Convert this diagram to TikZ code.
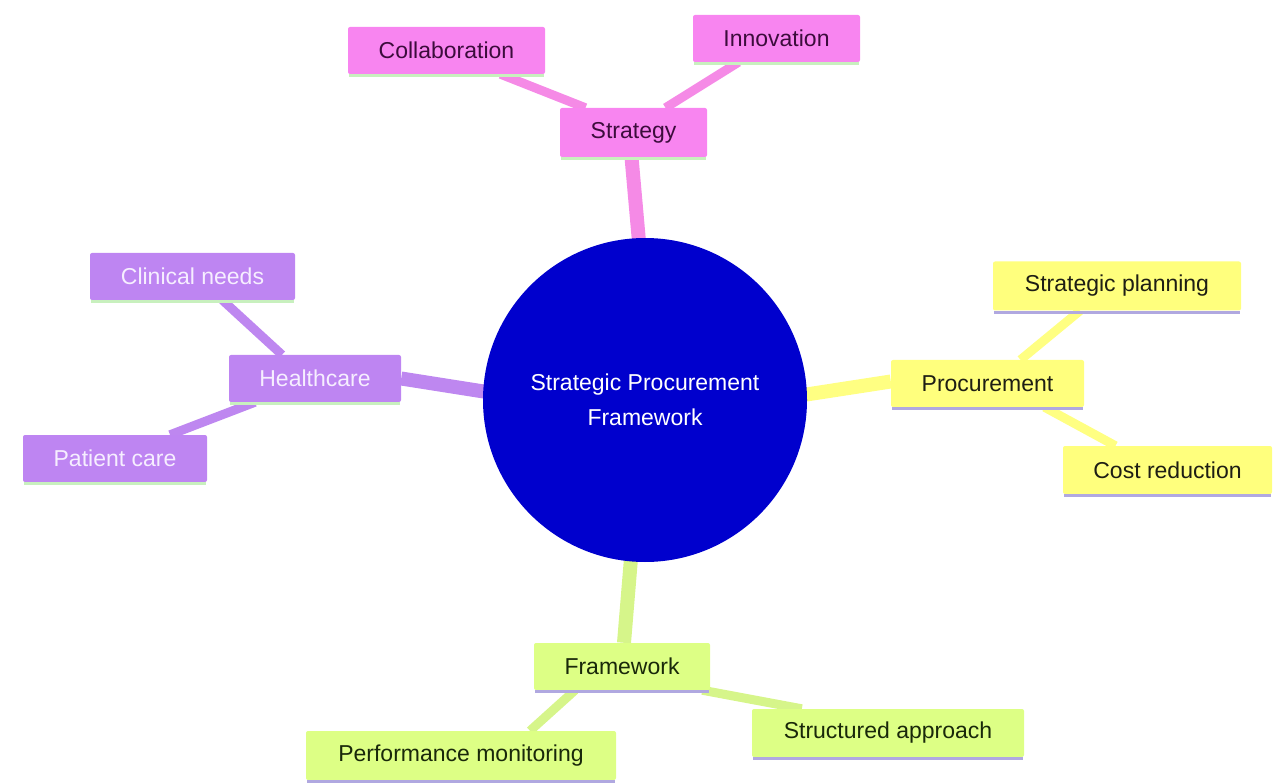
\documentclass[tikz,border=0pt]{standalone}
\usepackage{fontspec}
\setmainfont{Liberation Sans}
\usetikzlibrary{backgrounds,calc}
\definecolor{pinkF}{RGB}{248,133,240}
\definecolor{pinkL}{RGB}{245,138,230}
\definecolor{pinkT}{RGB}{60,12,60}
\definecolor{purpF}{RGB}{190,133,242}
\definecolor{purpL}{RGB}{190,135,240}
\definecolor{purpT}{RGB}{246,238,255}
\definecolor{yelF}{RGB}{255,255,125}
\definecolor{yelL}{RGB}{255,255,130}
\definecolor{yelT}{RGB}{30,30,20}
\definecolor{grnF}{RGB}{221,255,133}
\definecolor{grnL}{RGB}{214,245,138}
\definecolor{grnT}{RGB}{25,40,10}
\definecolor{centerB}{RGB}{0,0,205}
\definecolor{shGreen}{RGB}{200,240,190}
\definecolor{shLav}{RGB}{176,168,224}
\tikzset{
  box/.style={rectangle, rounded corners=2pt, inner sep=0pt, font=\fontsize{23}{27}\selectfont},
  pinkbox/.style={box, fill=pinkF, text=pinkT},
  purpbox/.style={box, fill=purpF, text=purpT},
  yelbox/.style={box, fill=yelF, text=yelT},
  grnbox/.style={box, fill=grnF, text=grnT},
  mainlink/.style={line width=14pt},
  childlink/.style={line width=9pt},
}
\begin{document}
\begin{tikzpicture}[x=1pt,y=-1pt]
\useasboundingbox (0,0) rectangle (1274,783);
% center
\node[circle, fill=centerB, minimum size=324pt, inner sep=0pt, text=white, align=center,
      font=\fontsize{23}{35}\selectfont] (ctr) at (645,400) {Strategic Procurement\\Framework};
% strategy branch
\node[pinkbox, minimum width=147pt, minimum height=49pt] (strat) at (633.5,132.5) {Strategy};
\node[pinkbox, minimum width=197pt, minimum height=47pt] (collab) at (446.5,50.5) {Collaboration};
\node[pinkbox, minimum width=167pt, minimum height=47pt] (innov) at (776.5,38.5) {Innovation};
% healthcare branch
\node[purpbox, minimum width=172pt, minimum height=47pt] (health) at (315,378.5) {Healthcare};
\node[purpbox, minimum width=205pt, minimum height=47pt] (clin) at (192.5,276.5) {Clinical needs};
\node[purpbox, minimum width=184pt, minimum height=47pt] (patient) at (115,458.5) {Patient care};
% procurement branch
\node[yelbox, minimum width=193pt, minimum height=47pt] (proc) at (987.5,383.5) {Procurement};
\node[yelbox, minimum width=248pt, minimum height=49pt] (splan) at (1117,286) {Strategic planning};
\node[yelbox, minimum width=209pt, minimum height=48pt] (cost) at (1167.5,470) {Cost reduction};
% framework branch
\node[grnbox, minimum width=176pt, minimum height=47pt] (frame) at (622,666.5) {Framework};
\node[grnbox, minimum width=310pt, minimum height=49pt] (perf) at (461,755.5) {Performance monitoring};
\node[grnbox, minimum width=272pt, minimum height=48pt] (struct) at (888,733) {Structured approach};
% bottom accent lines
\foreach \n in {strat,collab,innov,health,clin,patient}
  \draw[shGreen, line width=3pt] ([xshift=1pt,yshift=-1.5pt]\n.south west) -- ([xshift=-1pt,yshift=-1.5pt]\n.south east);
\foreach \n in {proc,splan,cost,frame,perf,struct}
  \draw[shLav, line width=3pt] ([xshift=1pt,yshift=-1.5pt]\n.south west) -- ([xshift=-1pt,yshift=-1.5pt]\n.south east);
% connectors
\begin{scope}[on background layer]
  \draw[pinkL, mainlink] ([xshift=-2pt]strat.south) -- ([xshift=-6pt,yshift=-4pt]ctr.north);
  \draw[pinkL, childlink] ([xshift=54pt]collab.south) -- ([xshift=-48pt]strat.north);
  \draw[pinkL, childlink] ([xshift=-38pt]innov.south) -- ([xshift=32pt]strat.north);
  \draw[purpL, mainlink] (health.east) -- ([xshift=4pt,yshift=8pt]ctr.west);
  \draw[purpL, childlink] ([xshift=30pt]clin.south) -- ([xshift=-33pt]health.north);
  \draw[purpL, childlink] ([xshift=55pt]patient.north) -- ([xshift=-60pt]health.south);
  \draw[yelL, mainlink] ([xshift=-4pt,yshift=5pt]ctr.east) -- ([yshift=2pt]proc.west);
  \draw[yelL, childlink] ([xshift=-37pt]splan.south) -- ([xshift=33pt]proc.north);
  \draw[yelL, childlink] ([xshift=57pt]proc.south) -- ([xshift=-52pt]cost.north);
  \draw[grnL, mainlink] ([xshift=-14pt,yshift=4pt]ctr.south) -- ([xshift=2pt]frame.north);
  \draw[grnL, childlink] ([xshift=-47pt]frame.south) -- ([xshift=69pt]perf.north);
  \draw[grnL, childlink] ([xshift=-8pt]frame.south east) -- ([xshift=50pt]struct.north west);
\end{scope}
\end{tikzpicture}
\end{document}
